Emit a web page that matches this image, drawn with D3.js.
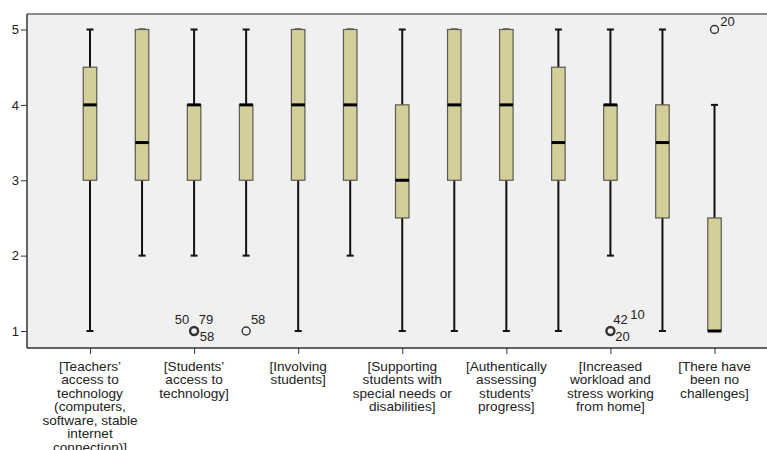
<!DOCTYPE html>
<html>
<head>
<meta charset="utf-8">
<script src="https://cdn.jsdelivr.net/npm/d3@7"></script>
<style>
  html, body { margin: 0; padding: 0; background: #fff; }
  svg { display: block; font-family: "Liberation Sans", Arial, sans-serif; }
</style>
</head>
<body>
<svg id="chart" width="767" height="450"></svg>
<script>
// Category labels (only every other category carries a label on the axis)
const categoryLabels = [
  ["[Teachers’", "access to", "technology", "(computers,", "software, stable", "internet", "connection)]"],
  null,
  ["[Students’", "access to", "technology]"],
  null,
  ["[Involving", "students]"],
  null,
  ["[Supporting", "students with", "special needs or", "disabilities]"],
  null,
  ["[Authentically", "assessing", "students’", "progress]"],
  null,
  ["[Increased", "workload and", "stress working", "from home]"],
  null,
  ["[There have", "been no", "challenges]"]
];

// Five-number summaries per item
const whiskerLow  = [1, 2, 2, 2, 1, 2, 1,   1, 1, 1,   2, 1,   1];
const quartile1   = [3, 3, 3, 3, 3, 3, 2.5, 3, 3, 3,   3, 2.5, 1];
const medians     = [4, 3.5, 4, 4, 4, 4, 3, 4, 4, 3.5, 4, 3.5, 1];
const quartile3   = [4.5, 5, 4, 4, 5, 5, 4, 5, 5, 4.5, 4, 4, 2.5];
const whiskerHigh = [5, 5, 5, 5, 5, 5, 5, 5, 5, 5,   5, 5,   4];

// Outlying cases: category index, value, case ids
const outliers = [
  { cat: 2,  value: 1, ids: ["50", "79", "58"] },
  { cat: 3,  value: 1, ids: ["58"] },
  { cat: 10, value: 1, ids: ["42", "10", "20"] },
  { cat: 12, value: 5, ids: ["20"] }
];

const yTicks = [1, 2, 3, 4, 5];

const svg = d3.select("#chart");
const plot = { left: 27, right: 767, top: 14, bottom: 348 };

const x = d3.scalePoint()
  .domain(d3.range(categoryLabels.length))
  .range([90, 714.5]);

const y = d3.scaleLinear()
  .domain([1, 5])
  .range([331, 29.5]);

// Plot background
svg.append("rect")
  .attr("x", plot.left).attr("y", plot.top)
  .attr("width", plot.right - plot.left).attr("height", plot.bottom - plot.top)
  .attr("fill", "#f0f0f0");

// Top frame line
svg.append("line")
  .attr("x1", plot.left).attr("x2", plot.right)
  .attr("y1", plot.top).attr("y2", plot.top)
  .attr("stroke", "#8a8a8a").attr("stroke-width", 2);

// Y axis
const yAxis = d3.axisLeft(y).tickValues(yTicks).tickFormat(d3.format("d")).tickSize(6).tickPadding(2);
const yg = svg.append("g").attr("transform", `translate(${plot.left},0)`).call(yAxis);
yg.select(".domain").attr("d", `M0,${plot.top}V${plot.bottom}`).attr("stroke", "#333").attr("stroke-width", 1.5);
yg.selectAll(".tick line").attr("stroke", "#333");
yg.selectAll(".tick text").attr("font-size", 13).attr("fill", "#222")
  .attr("font-family", "Liberation Sans, Arial, sans-serif");

// X axis with ticks only on labelled categories
const labelled = d3.range(categoryLabels.length).filter(i => categoryLabels[i]);
const xAxis = d3.axisBottom(x).tickValues(labelled).tickSize(6).tickFormat("");
const xg = svg.append("g").attr("transform", `translate(0,${plot.bottom})`).call(xAxis);
xg.select(".domain").attr("d", `M${plot.left},0H${plot.right}`).attr("stroke", "#333").attr("stroke-width", 1.5);
xg.selectAll(".tick line").attr("stroke", "#333");

// Multi-line category labels
labelled.forEach(i => {
  const t = svg.append("text")
    .attr("x", x(i)).attr("y", 370.5)
    .attr("text-anchor", "middle")
    .attr("font-size", 13.6).attr("fill", "#222");
  categoryLabels[i].forEach((line, k) => {
    t.append("tspan").attr("x", x(i)).attr("dy", k === 0 ? 0 : 13.5).text(line);
  });
});

// Boxplots
const boxW = 13.5, capW = 7;
const boxes = svg.append("g").selectAll("g")
  .data(d3.range(categoryLabels.length))
  .join("g");

// Whiskers
boxes.append("line")
  .attr("x1", i => x(i)).attr("x2", i => x(i))
  .attr("y1", i => y(whiskerLow[i])).attr("y2", i => y(quartile1[i]))
  .attr("stroke", "#111").attr("stroke-width", 2);
boxes.append("line")
  .attr("x1", i => x(i)).attr("x2", i => x(i))
  .attr("y1", i => y(whiskerHigh[i])).attr("y2", i => y(quartile3[i]))
  .attr("stroke", "#111").attr("stroke-width", 2);
// Whisker caps
boxes.append("line")
  .attr("x1", i => x(i) - capW / 2).attr("x2", i => x(i) + capW / 2)
  .attr("y1", i => y(whiskerLow[i])).attr("y2", i => y(whiskerLow[i]))
  .attr("stroke", "#111").attr("stroke-width", 2);
boxes.append("line")
  .attr("x1", i => x(i) - capW / 2).attr("x2", i => x(i) + capW / 2)
  .attr("y1", i => y(whiskerHigh[i])).attr("y2", i => y(whiskerHigh[i]))
  .attr("stroke", "#111").attr("stroke-width", 2);

// Interquartile boxes
boxes.append("rect")
  .attr("x", i => x(i) - boxW / 2)
  .attr("width", boxW)
  .attr("y", i => y(quartile3[i]))
  .attr("height", i => Math.max(0, y(quartile1[i]) - y(quartile3[i])))
  .attr("fill", "#d4cf98")
  .attr("stroke", "#5a5a50").attr("stroke-width", 1.2);

// Medians
boxes.append("line")
  .attr("x1", i => x(i) - boxW / 2).attr("x2", i => x(i) + boxW / 2)
  .attr("y1", i => y(medians[i])).attr("y2", i => y(medians[i]))
  .attr("stroke", "#000").attr("stroke-width", 3);

// Outliers and case labels
const lab = svg.append("g").attr("font-size", 13).attr("fill", "#222");
outliers.forEach(o => {
  const cx = x(o.cat), cy = y(o.value);
  svg.append("circle")
    .attr("cx", cx).attr("cy", cy).attr("r", 4)
    .attr("fill", "none").attr("stroke", "#333")
    .attr("stroke-width", o.ids.length > 1 ? 2.4 : 1.4);
  let positions;
  if (o.ids.length === 3 && o.cat === 2) {
    positions = [[-12, -12], [12, -12], [13, 5]];
  } else if (o.ids.length === 3) {
    positions = [[10, -12], [27, -17], [12, 5]];
  } else if (o.value === 5) {
    positions = [[13, -8]];
  } else {
    positions = [[12, -12]];
  }
  o.ids.forEach((id, k) => {
    lab.append("text")
      .attr("x", cx + positions[k][0]).attr("y", cy + positions[k][1])
      .attr("dy", "0.35em").attr("text-anchor", "middle")
      .text(id);
  });
});
</script>
</body>
</html>
